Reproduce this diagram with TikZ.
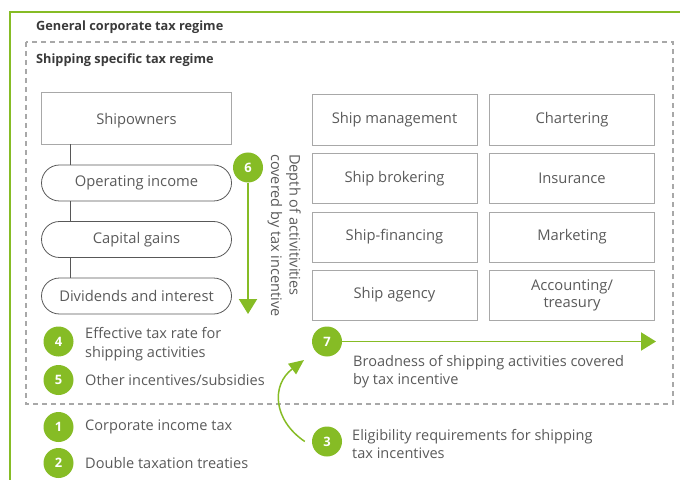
\documentclass[tikz,border=0pt]{standalone}
\usepackage{fontspec}
\setmainfont{Open Sans}
\usetikzlibrary{arrows.meta}
\definecolor{dgreen}{HTML}{86BC25}
\definecolor{dtext}{HTML}{5A5A5A}
\definecolor{dhead}{HTML}{3A3A3A}
\definecolor{dline}{HTML}{A8A8A8}
\begin{document}
\begin{tikzpicture}[x=1bp,y=-1bp,
        box/.style={draw=dline,line width=1pt,minimum width=165bp,minimum height=50bp,
            text=dtext,align=center,font=\fontsize{14.8}{17}\selectfont},
        pill/.style={draw=dhead!85,line width=0.8pt,rounded corners=18bp,minimum width=190bp,
            minimum height=36bp,text=dtext,font=\fontsize{14.8}{17}\selectfont},
        num/.style={circle,fill=dgreen,text=white,minimum size=30bp,inner sep=0pt,
            font=\bfseries\fontsize{13}{13}\selectfont},
        lbl/.style={text=dtext,align=left,anchor=west,inner sep=0pt,font=\fontsize{14.6}{18.5}\selectfont},
        head/.style={text=dhead,anchor=west,inner sep=0pt,font=\bfseries\fontsize{12.8}{14}\selectfont},
        garrow/.style={draw=dgreen,line width=2pt,-{Triangle[width=18bp,length=15bp]}}]
                \useasboundingbox (0,0) rectangle (680,480);
                \draw [dgreen,line width=1.5pt] (10,480) -- (10,12) -- (680,12);
                \draw [dline,line width=1.2pt,dash pattern=on 5bp off 4bp] (26,42) rectangle (673,404);
                \node[head] (G) at (36,27) {General corporate tax regime};
                \node[head] (H) at (36,60) {Shipping specific tax regime};

                \node[box,minimum width=190bp,minimum height=51bp,text depth=0pt] (S) at (136.5,118.5) {Shipowners};
                \node[pill] (O) at (136.5,183)   {Operating income};
                \node[pill] (C) at (136.5,239.5) {Capital gains};
                \node[pill] (D) at (136.5,296)   {Dividends and interest};
                \draw [dhead!85,line width=0.8pt] ([xshift=-66.5bp]S.south) -- ([xshift=-66.5bp]O.north);
                \draw [dhead!85,line width=0.8pt] ([xshift=-66.5bp]O.south) -- ([xshift=-66.5bp]C.north);
                \draw [dhead!85,line width=0.8pt] ([xshift=-66.5bp]C.south) -- ([xshift=-66.5bp]D.north);

                \node[box] (A1) at (394.5,120)   {Ship management};
                \node[box] (B1) at (572,120)     {Chartering};
                \node[box] (A2) at (394.5,178.5) {Ship brokering};
                \node[box] (B2) at (572,178.5)   {Insurance};
                \node[box] (A3) at (394.5,237)   {Ship-financing};
                \node[box] (B3) at (572,237)     {Marketing};
                \node[box] (A4) at (394.5,295)   {Ship agency};
                \node[box] (B4) at (572,295)     {Accounting/\\treasury};

                \node[num] (N6) at (248,167.5) {6};
                \coordinate (E6) at (248,314);
                \draw [garrow] (N6) -- (E6);
                \node[lbl,rotate=-90,anchor=north west] (T6) at (301,154) {Depth of activitivities\\covered by tax incentive};

                \node[num] (N7) at (327,341.5) {7};
                \coordinate (E7) at (656,341.5);
                \draw [garrow] (N7) -- (E7);
                \node[lbl,anchor=north west] (T7) at (353,355) {Broadness of shipping activities covered\\by tax incentive};

                \node[num] (N3) at (327,441.5) {3};
                \node[lbl] (T3) at (352,444) {Eligibility requirements for shipping\\tax incentives};
                \coordinate (E3) at (304,360);
                \draw [garrow,line width=1.5pt,-{Triangle[width=13bp,length=15bp]}]
                    ([xshift=-7bp]N3.west) .. controls (273,420) and (271,385) .. (E3);

                \node[num] (N4) at (58.5,341.5) {4};
                \node[lbl] (T4) at (85,344)   {Effective tax rate for\\shipping activities};
                \node[num] (N5) at (58.5,380) {5};
                \node[lbl] (T5) at (85,380)   {Other incentives/subsidies};
                \node[num] (N1) at (58.5,427) {1};
                \node[lbl] (T1) at (85,427)   {Corporate income tax};
                \node[num] (N2) at (58.5,463) {2};
                \node[lbl] (T2) at (85,463)   {Double taxation treaties};
            \end{tikzpicture}
\end{document}
